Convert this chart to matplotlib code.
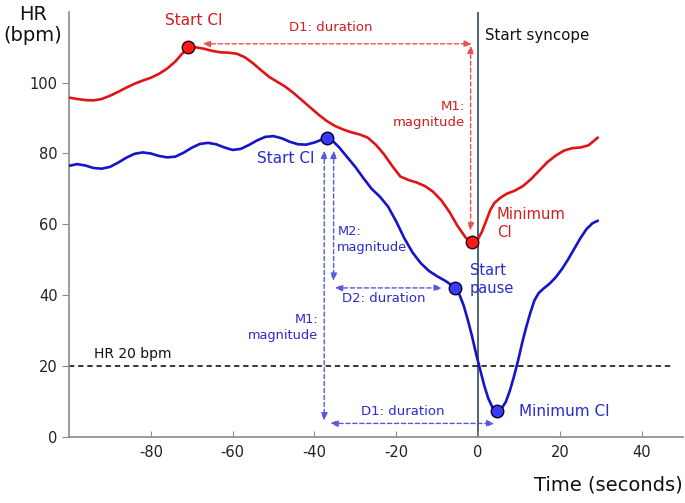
import matplotlib
matplotlib.use("Agg")
import matplotlib.pyplot as plt

plt.rcParams['font.family'] = ['DejaVu Sans']
plt.rcParams['axes.unicode_minus'] = False

# ---- data ----
red_t = [-100, -98, -96, -94, -92, -90, -88, -86, -84, -82, -80, -78, -76, -74, -72.5, -71,
         -69, -67, -65, -63, -61, -59, -57, -55, -53, -51, -49, -47, -45, -43, -41, -39, -37,
         -35, -33, -31, -29, -27, -25, -23, -21, -19, -17, -15, -13, -11, -9, -7, -5, -3,
         -1.5, 0, 1, 2, 3, 4, 5.5, 7, 9, 11, 13, 15, 17, 19, 21, 23, 25, 27, 29.3]
red_hr = [95.8, 95.4, 95.1, 95.0, 95.4, 96.3, 97.4, 98.6, 99.7, 100.6, 101.4, 102.5, 104.0,
          106.0, 108.0, 109.8, 110.0, 109.6, 109.0, 108.6, 108.5, 108.2, 107.2, 105.5, 103.5,
          101.6, 100.2, 98.8, 97.0, 95.0, 93.0, 91.0, 89.2, 87.8, 86.8, 86.0, 85.4, 84.5,
          82.5, 79.8, 76.5, 73.5, 72.5, 71.8, 70.8, 69.2, 66.8, 63.5, 59.5, 56.2, 54.9, 55.8,
          58.0, 61.0, 64.0, 66.0, 67.5, 68.6, 69.5, 70.8, 72.8, 75.2, 77.6, 79.4, 80.8, 81.5,
          81.7, 82.3, 84.5]

blue_t = [-100, -98, -96, -94, -92, -90, -88, -86, -84, -82, -80, -78, -76, -74, -72, -70,
          -68, -66, -64, -62, -60, -58, -56, -54, -52, -50, -48, -46, -44, -42, -40, -38,
          -36.8, -35.5, -34, -32, -30, -28, -26, -24, -22, -20, -18, -16, -14, -12, -10, -8,
          -6.5, -5.6, -4.5, -3.5, -2.5, -1.5, -0.5, 0.5, 1.5, 2.5, 3.5, 4.6, 5.7, 6.8, 7.8,
          8.8, 9.8, 10.8, 11.8, 12.8, 13.8, 14.8, 16, 17.5, 19, 20.5, 22, 23.5, 25, 26.5, 28,
          29.3]
blue_hr = [76.5, 77.0, 76.6, 75.9, 75.7, 76.2, 77.4, 78.8, 79.9, 80.3, 80.0, 79.3, 78.9, 79.1,
           80.2, 81.6, 82.7, 83.0, 82.6, 81.7, 81.0, 81.3, 82.4, 83.7, 84.7, 84.9, 84.3, 83.3,
           82.6, 82.5, 83.1, 84.0, 84.3, 83.5, 81.8, 79.0, 76.2, 73.0, 70.0, 67.8, 65.0, 60.8,
           56.0, 52.0, 49.0, 46.8, 45.3, 44.0, 42.8, 42.0, 40.0, 37.0, 33.0, 28.5, 23.5, 19.0,
           14.5, 10.8, 8.3, 7.3, 7.8, 9.8, 13.0, 17.0, 21.5, 26.5, 31.0, 35.0, 38.5, 40.5,
           41.8, 43.2, 45.0, 47.3, 50.0, 53.0, 56.0, 58.6, 60.3, 61.0]

red_marks_t = [-71, -1.5]
red_marks_hr = [110.0, 54.9]
blue_marks_t = [-36.8, -5.6, 4.6]
blue_marks_hr = [84.3, 42.0, 7.3]

threshold_hr = 20
syncope_t = 0
xticks = [-80, -60, -40, -20, 0, 20, 40]
yticks = [0, 20, 40, 60, 80, 100]

RED = '#e01414'
RED_TXT = '#d41c1c'
RED_ARR = '#ee5050'
BLUE = '#1414c8'
BLUE_TXT = '#2a2ad2'
BLUE_ARR = '#5858e0'
BLUE_MK = '#3a3aff'

fig = plt.figure(figsize=(6.85, 5.03), dpi=100)
ax = fig.add_axes([0.1007, 0.1322, 0.8957, 0.844])
ax.set_xlim(-100, 50)
ax.set_ylim(0, 120)

for s in ['top', 'right']:
    ax.spines[s].set_visible(False)
for s in ['left', 'bottom']:
    ax.spines[s].set_color('#8a8a8a')
    ax.spines[s].set_linewidth(1.2)

ax.set_xticks(xticks)
ax.set_yticks(yticks)
ax.tick_params(axis='x', direction='in', length=4, color='#8a8a8a', labelsize=10.5,
               labelcolor='#222222', pad=6)
ax.tick_params(axis='y', direction='out', length=5, color='#8a8a8a', labelsize=10.5,
               labelcolor='#222222', pad=3)

# reference lines
ax.axvline(syncope_t, color='#34495a', lw=1.2, zorder=1)
ax.plot([-100, 47.3], [threshold_hr, threshold_hr], color='black', lw=1.1,
        ls=(0, (3.5, 2.5)), zorder=1)

# curves
ax.plot(red_t, red_hr, color=RED, lw=1.9, zorder=3, solid_capstyle='round',
        solid_joinstyle='round')
ax.plot(blue_t, blue_hr, color=BLUE, lw=1.9, zorder=3, solid_capstyle='round',
        solid_joinstyle='round')
ax.plot(red_marks_t, red_marks_hr, 'o', ms=9, mfc='#ff1a1a', mec='#300000', mew=1, zorder=5)
ax.plot(blue_marks_t, blue_marks_hr, 'o', ms=9, mfc=BLUE_MK, mec='#000020', mew=1, zorder=5)


def arrow(x0, y0, x1, y1, color):
    ax.annotate('', xy=(x1, y1), xytext=(x0, y0),
                arrowprops=dict(arrowstyle='<|-|>,head_length=0.55,head_width=0.25',
                                mutation_scale=8, lw=1.0, ls=(0, (3, 2)), color=color,
                                shrinkA=0, shrinkB=0), zorder=2)


# red annotations
arrow(-67.3, 111, -1.5, 111, RED_ARR)
arrow(-1.8, 110.5, -1.8, 58.2, RED_ARR)
# blue annotations
arrow(-37.6, 80.8, -37.6, 4.5, BLUE_ARR)
arrow(-35.3, 80.8, -35.3, 44.0, BLUE_ARR)
arrow(-35.0, 42.0, -8.8, 42.0, BLUE_ARR)
arrow(-36.1, 3.7, 4.0, 3.7, BLUE_ARR)

# texts
ax.text(-69.5, 117.5, 'Start CI', color=RED_TXT, fontsize=11, ha='center', va='center')
ax.text(-36, 115.5, 'D1: duration', color=RED_TXT, fontsize=9.5, ha='center', va='center')
ax.text(-3.2, 91, 'M1:\nmagnitude', color=RED_TXT, fontsize=9.5, ha='right', va='center',
        multialignment='right', linespacing=1.3)
ax.text(1.7, 113.3, 'Start syncope', color='#111111', fontsize=10.8, ha='left', va='center')
ax.text(4.6, 60.2, 'Minimum\nCI', color=RED_TXT, fontsize=10.6, ha='left', va='center',
        multialignment='left', linespacing=1.25)

ax.text(-47, 78.6, 'Start CI', color=BLUE_TXT, fontsize=11, ha='center', va='center')
ax.text(-34.4, 55.6, 'M2:\nmagnitude', color=BLUE_TXT, fontsize=9.3, ha='left', va='center',
        multialignment='left', linespacing=1.3)
ax.text(-23, 39, 'D2: duration', color=BLUE_TXT, fontsize=9.5, ha='center', va='center')
ax.text(-39, 30.8, 'M1:\nmagnitude', color=BLUE_TXT, fontsize=9.3, ha='right', va='center',
        multialignment='right', linespacing=1.3)
ax.text(-2, 44.4, 'Start\npause', color=BLUE_TXT, fontsize=10.5, ha='left', va='center',
        multialignment='left', linespacing=1.2)
ax.text(-18.3, 7, 'D1: duration', color=BLUE_TXT, fontsize=9.5, ha='center', va='center')
ax.text(10, 7, 'Minimum CI', color=BLUE_TXT, fontsize=11, ha='left', va='center')
ax.text(-93.9, 23.4, 'HR 20 bpm', color='#111111', fontsize=10, ha='left', va='center')

# axis titles
fig.text(0.048, 0.95, 'HR\n(bpm)', fontsize=14, ha='center', va='center',
         multialignment='center', color='#111111', linespacing=1.1)
fig.text(0.997, 0.036, 'Time (seconds)', fontsize=14, ha='right', va='center',
         color='#111111')

fig.savefig('out.png', dpi=100)
